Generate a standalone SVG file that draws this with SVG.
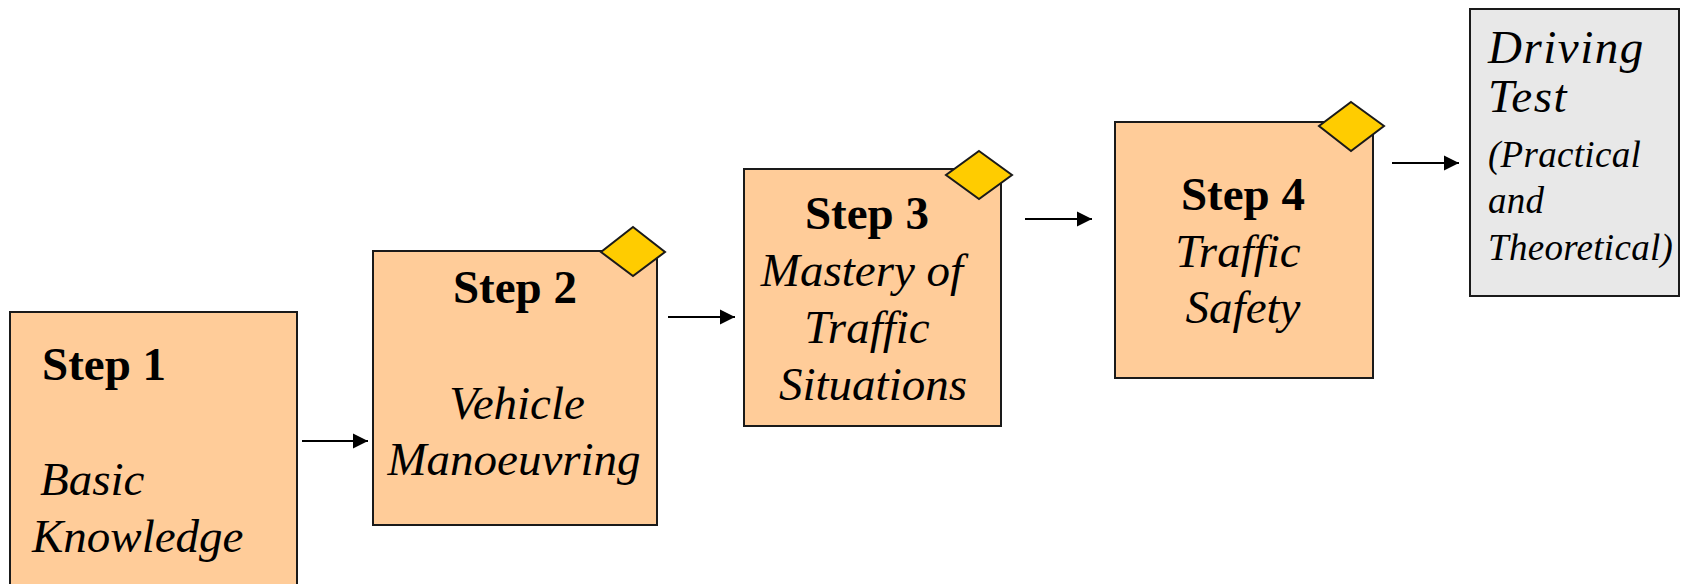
<svg xmlns="http://www.w3.org/2000/svg" width="1686" height="584" viewBox="0 0 1686 584">
<defs>
<marker id="ah" markerWidth="16" markerHeight="16" refX="15" refY="8" orient="auto" markerUnits="userSpaceOnUse">
<path d="M0,0.5 L15,8 L0,15.5 Z" fill="#000"/>
</marker>
<style>
.box{fill:#FFCC99;stroke:#1a1a1a;stroke-width:2}
.test{fill:#E8E8E8;stroke:#1a1a1a;stroke-width:2}
.dia{fill:#FFCC00;stroke:#1a1a1a;stroke-width:2}
.b{font-family:"Liberation Serif","Times New Roman",serif;font-weight:bold;font-size:47px;fill:#000}
.i{font-family:"Liberation Serif","Times New Roman",serif;font-style:italic;font-size:47px;fill:#000}
.t{letter-spacing:1.5px}
.s{font-family:"Liberation Serif","Times New Roman",serif;font-style:italic;font-size:37px;fill:#000;letter-spacing:0.3px}
.c{text-anchor:middle}
.conn{stroke:#000;stroke-width:2;fill:none;marker-end:url(#ah)}
</style>
</defs>
<rect width="1686" height="584" fill="#fff"/>
<g id="step1">
<rect class="box" x="10" y="312" width="287" height="290"/>
<text class="b" x="42" y="380">Step 1</text>
<text class="i" x="40" y="495">Basic</text>
<text class="i" x="32" y="552">Knowledge</text>
</g>
<g id="step2">
<rect class="box" x="373" y="251" width="284" height="274"/>
<polygon class="dia" points="633,227 665,252 633,276 601,252"/>
<text class="b c" x="515" y="303">Step 2</text>
<text class="i c" x="517" y="419">Vehicle</text>
<text class="i c" x="514" y="475">Manoeuvring</text>
</g>
<g id="step3">
<rect class="box" x="744" y="169" width="257" height="257"/>
<polygon class="dia" points="979,151 1012,175 979,199 946,175"/>
<text class="b c" x="867" y="229">Step 3</text>
<text class="i c" x="862" y="286">Mastery of</text>
<text class="i c" x="867" y="343">Traffic</text>
<text class="i c" x="873" y="400">Situations</text>
</g>
<g id="step4">
<rect class="box" x="1115" y="122" width="258" height="256"/>
<polygon class="dia" points="1351,102 1384,126 1351,151 1319,126"/>
<text class="b c" x="1243" y="210">Step 4</text>
<text class="i c" x="1238" y="267">Traffic</text>
<text class="i c" x="1243" y="323">Safety</text>
</g>
<g id="test">
<rect class="test" x="1470" y="9" width="209" height="287"/>
<text class="i t" x="1488" y="63">Driving</text>
<text class="i t" x="1488" y="112">Test</text>
<text class="s" x="1488" y="167">(Practical</text>
<text class="s" x="1488" y="213">and</text>
<text class="s" x="1488" y="260">Theoretical)</text>
</g>
<g id="connectors">
<line class="conn" x1="302" y1="441" x2="368" y2="441"/>
<line class="conn" x1="668" y1="317" x2="735" y2="317"/>
<line class="conn" x1="1025" y1="219" x2="1092" y2="219"/>
<line class="conn" x1="1392" y1="163" x2="1459" y2="163"/>
</g>
</svg>
